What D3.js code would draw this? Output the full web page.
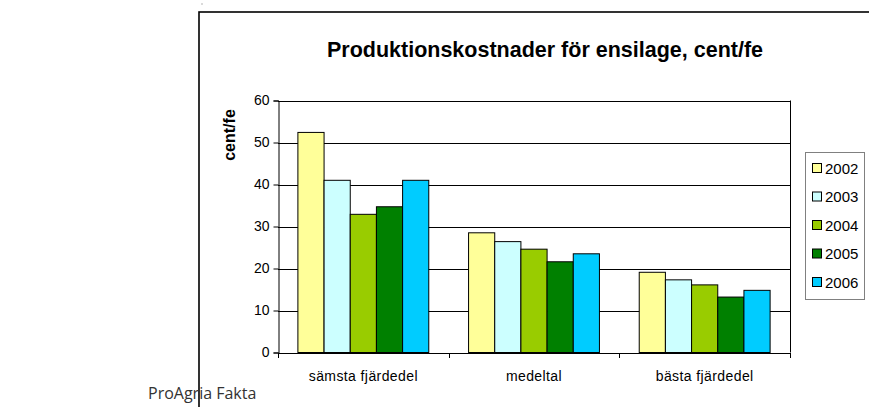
<!DOCTYPE html>
<html>
<head>
<meta charset="utf-8">
<script src="https://cdn.jsdelivr.net/npm/d3@7"></script>
<style>
  body { margin: 0; background: #fff; }
  svg { display: block; }
</style>
</head>
<body>
<div class="chart"></div>
<script>
const categories = ['sämsta fjärdedel', 'medeltal', 'bästa fjärdedel']
const years = ['2002', '2003', '2004', '2005', '2006']
const v2002 = [52.4, 28.5, 19.1]
const v2003 = [41.0, 26.4, 17.3]
const v2004 = [32.9, 24.6, 16.1]
const v2005 = [34.7, 21.6, 13.2]
const v2006 = [41.0, 23.5, 14.8]
const yTicks = [0, 10, 20, 30, 40, 50, 60]

const series = [v2002, v2003, v2004, v2005, v2006]
const colors = ['#ffff99', '#ccffff', '#99cc00', '#008000', '#00ccff']

const width = 869, height = 407
const plot = { left: 278, right: 790, top: 100.5, bottom: 352.5 }
const font = 'Liberation Sans, Arial, sans-serif'

const svg = d3.select('.chart').append('svg')
    .attr('width', width)
    .attr('height', height)

// outer chart frame
svg.append('rect')
    .attr('x', 199).attr('y', 12)
    .attr('width', 700).attr('height', 420)
    .attr('fill', 'none')
    .attr('stroke', '#000')
    .attr('stroke-width', 1.6)
svg.append('circle').attr('cx', 202).attr('cy', 4).attr('r', 0.7).attr('fill', '#999')

svg.append('text')
    .attr('x', 545).attr('y', 57)
    .attr('text-anchor', 'middle')
    .attr('font-family', font)
    .attr('font-weight', 'bold')
    .attr('font-size', 21.5)
    .text('Produktionskostnader för ensilage, cent/fe')

const x0 = d3.scaleBand().domain(categories).range([plot.left, plot.right])
const x1 = d3.scaleBand().domain(years).range([0, x0.bandwidth()]).paddingOuter(0.76)
const y = d3.scaleLinear().domain([0, 60]).range([plot.bottom, plot.top])

// gridlines
svg.append('g').selectAll('line')
    .data(yTicks.filter(d => d > 0))
    .enter().append('line')
    .attr('x1', plot.left).attr('x2', plot.right)
    .attr('y1', d => Math.round(y(d)) + 0.5).attr('y2', d => Math.round(y(d)) + 0.5)
    .attr('stroke', '#000')

// right border of plot
svg.append('line')
    .attr('x1', plot.right + 0.5).attr('x2', plot.right + 0.5)
    .attr('y1', plot.top).attr('y2', plot.bottom)
    .attr('stroke', '#000')

// bars
const groups = svg.append('g').selectAll('g')
    .data(categories)
    .enter().append('g')
    .attr('transform', d => `translate(${x0(d)},0)`)

groups.selectAll('rect')
    .data((d, i) => years.map((yr, j) => ({ yr: yr, v: series[j][i], c: j })))
    .enter().append('rect')
    .attr('x', d => x1(d.yr))
    .attr('y', d => y(d.v))
    .attr('width', x1.bandwidth())
    .attr('height', d => plot.bottom - y(d.v))
    .attr('fill', d => colors[d.c])
    .attr('stroke', '#000')
    .attr('stroke-width', 1)

// y axis
const yAxis = svg.append('g')
    .attr('transform', `translate(${plot.left + 0.5},0)`)
    .call(d3.axisLeft(y).tickValues(yTicks).tickSize(5).tickPadding(4))
yAxis.select('.domain').attr('stroke', '#000')
yAxis.selectAll('text')
    .attr('font-family', font)
    .attr('font-size', 14)
    .attr('fill', '#000')

// x axis
const xAxis = svg.append('g')
    .attr('transform', `translate(0,${plot.bottom + 0.5})`)
    .call(d3.axisBottom(x0).tickSize(0).tickPadding(0))
xAxis.select('.domain').attr('stroke', '#000')
xAxis.selectAll('text')
    .attr('y', 28)
    .attr('dy', 0)
    .attr('font-family', font)
    .attr('font-size', 14)
    .attr('letter-spacing', 0.4)
    .attr('fill', '#000')
xAxis.selectAll('.sep')
    .data([plot.left, x0(categories[1]), x0(categories[2]), plot.right])
    .enter().append('line')
    .attr('x1', d => Math.round(d) + 0.5).attr('x2', d => Math.round(d) + 0.5)
    .attr('y1', 0).attr('y2', 5)
    .attr('stroke', '#000')

svg.append('text')
    .attr('transform', 'translate(235,135) rotate(-90)')
    .attr('text-anchor', 'middle')
    .attr('font-family', font)
    .attr('font-weight', 'bold')
    .attr('font-size', 16)
    .text('cent/fe')

// legend
svg.append('rect')
    .attr('x', 805.5).attr('y', 152.5)
    .attr('width', 59).attr('height', 147)
    .attr('fill', '#fff')
    .attr('stroke', '#808080')
const items = svg.append('g').selectAll('g')
    .data(years)
    .enter().append('g')
    .attr('transform', (d, i) => `translate(812,${168 + i * 28.5})`)
items.append('rect')
    .attr('x', 0.5).attr('y', -4.5)
    .attr('width', 9).attr('height', 9)
    .attr('fill', (d, i) => colors[i])
    .attr('stroke', '#000')
items.append('text')
    .attr('x', 13).attr('y', 5.5)
    .attr('font-family', font)
    .attr('font-size', 15)
    .text(d => d)

svg.append('text')
    .attr('x', 148).attr('y', 399)
    .attr('font-family', 'Open Sans, sans-serif')
    .attr('font-size', 16)
    .attr('fill', '#333')
    .text('ProAgria Fakta')
</script>
</body>
</html>
